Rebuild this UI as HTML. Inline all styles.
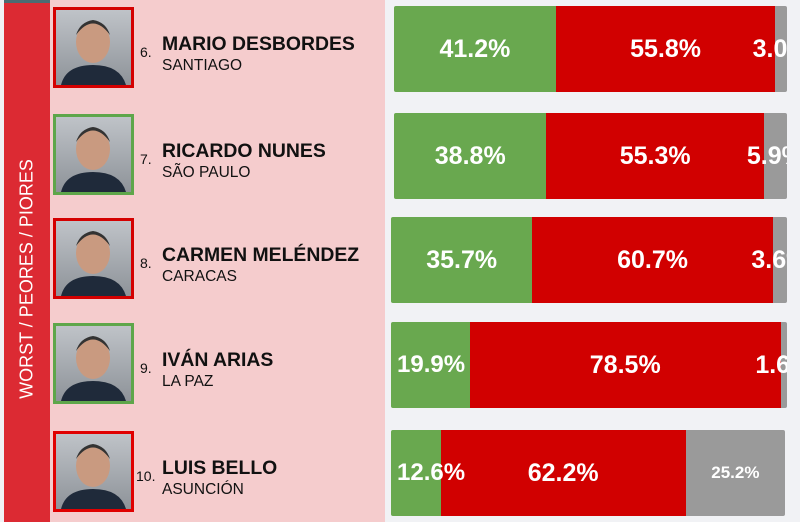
<!DOCTYPE html>
<html><head><meta charset="utf-8"><style>
body{margin:0;width:800px;height:522px;overflow:hidden;background:#f1f2f5;font-family:"Liberation Sans",sans-serif;position:relative}
.abs{position:absolute}
#strip{left:4px;top:0;width:46px;height:522px;background:#dc2a33}
#stripTop{left:4px;top:0;width:46px;height:3px;background:#4b6b72}
#vtext{left:27px;top:279px;transform:translate(-50%,-50%) rotate(-90deg);color:#fff;font-size:18px;white-space:nowrap;font-weight:300}
#panel{left:50px;top:0;width:335px;height:522px;background:#f5cccd}
.photo{width:75px;height:75px;border:3px solid;background:#ccc;overflow:hidden}
.num{font-size:14px;color:#111}
.name{font-size:19.4px;font-weight:bold;color:#111;white-space:nowrap}
.city{font-size:15.5px;color:#111;white-space:nowrap}
.bar{overflow:hidden;border-radius:2px;display:flex}
.seg{height:100%;display:flex;align-items:center;justify-content:center;color:#fff;font-weight:bold;font-size:25px;white-space:nowrap;overflow:visible;flex:none;position:relative}
.seg.left{justify-content:flex-start;padding-left:5px;box-sizing:border-box;z-index:2}
</style></head><body>
<div class="abs" id="panel"></div>
<div class="abs" id="strip"></div>
<div class="abs" id="stripTop"></div>
<div class="abs" id="vtext">WORST / PEORES / PIORES</div>
<div id="rows"></div>
<script>
const ranks=["6.","7.","8.","9.","10."];
const names=["MARIO DESBORDES","RICARDO NUNES","CARMEN MELÉNDEZ","IVÁN ARIAS","LUIS BELLO"];
const cities=["SANTIAGO","SÃO PAULO","CARACAS","LA PAZ","ASUNCIÓN"];
const approve=[41.2,38.8,35.7,19.9,12.6];
const disapprove=[55.8,55.3,60.7,78.5,62.2];
const unsure=[3.0,5.9,3.6,1.6,25.2];
const borders=["#d40000","#5ea64a","#d40000","#5ea64a","#e00000"];
const rowTop=[6,113,217,322,430];
const barLeft=[394,394,391,391,391];
const barRight=[787,787,787,787,785];
const rowsEl=document.getElementById('rows');
for(let i=0;i<names.length;i++){
  const y=rowTop[i];
  const p=document.createElement('div');p.className='abs photo';
  
  
  p.style.cssText=`left:53px;top:${y+1}px;border-color:${borders[i]};background:linear-gradient(#bfc3c8,#8e9399)`;
  p.innerHTML='<svg width="75" height="75"><ellipse cx="37" cy="32" rx="17" ry="21" fill="#c99a80"/><path d="M20 25 Q37 2 54 25 Q50 12 37 10 Q24 12 20 25Z" fill="#333"/><path d="M5 75 Q10 55 37 55 Q64 55 70 75Z" fill="#1f2a3a"/></svg>';
  rowsEl.appendChild(p);
  const n=document.createElement('div');n.className='abs num';n.textContent=ranks[i];
  
  
  n.style.left=(i==4?136:140)+'px';n.style.top=(y+38)+'px';rowsEl.appendChild(n);
  const nm=document.createElement('div');nm.className='abs name';nm.textContent=names[i];
  
  
  nm.style.left='162px';nm.style.top=(y+27)+'px';rowsEl.appendChild(nm);
  const c=document.createElement('div');c.className='abs city';c.textContent=cities[i];
  
  
  c.style.left='162px';c.style.top=(y+51)+'px';rowsEl.appendChild(c);
  const bar=document.createElement('div');bar.className='abs bar';
  
  
  const L=barLeft[i],W=barRight[i]-L;
  bar.style.cssText=`left:${L}px;top:${y}px;width:${W}px;height:86px`;
  const tot=approve[i]+disapprove[i]+unsure[i];
  const vals=[approve[i],disapprove[i],unsure[i]];
  const cols=['#69a84f','#d10000','#9a9a9a'];
  const segNames=['approve-segment','disapprove-segment','unsure-segment'];
  vals.forEach((v,k)=>{
    const s=document.createElement('div');s.className='seg';
    
    
    const w=v/tot*W;
    s.style.width=w+'px';s.style.background=cols[k];
    if(k==0&&w<90){s.classList.add('left');s.style.paddingLeft='6px';s.style.fontSize='24px';}
    if(k==2&&v>10){s.style.fontSize='17px';}
    s.textContent=v.toFixed(1)+'%';
    bar.appendChild(s);
  });
  rowsEl.appendChild(bar);
}
</script>
</body></html>
